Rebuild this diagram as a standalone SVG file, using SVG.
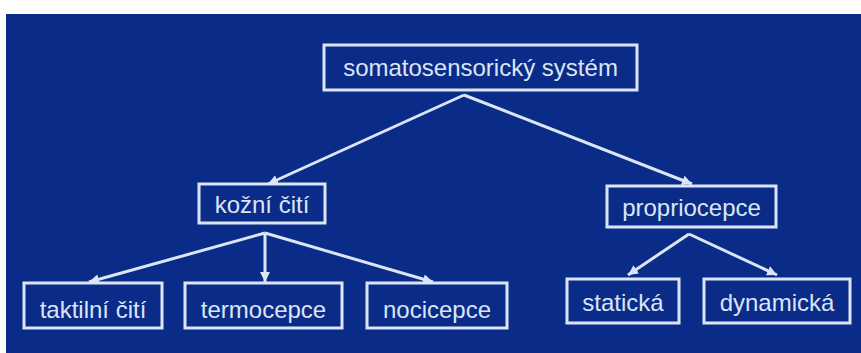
<svg xmlns="http://www.w3.org/2000/svg" width="861" height="353" viewBox="0 0 861 353">
<style>
.box{fill:#0a2c88;stroke:#dbe5f6;stroke-width:3}
.lbl{font-family:"Liberation Sans",Arial,sans-serif;font-size:24px;fill:#dbe5f6;text-anchor:middle}
.edge{stroke:#dbe5f6;stroke-width:3;fill:none;marker-end:url(#ah)}
</style>
<defs>
<marker id="ah" markerUnits="userSpaceOnUse" markerWidth="12" markerHeight="10" refX="10" refY="5" orient="auto">
<path d="M0,0 L10,5 L0,10 Z" fill="#dbe5f6"/>
</marker>
</defs>
<rect x="0" y="0" width="861" height="353" fill="#ffffff"/>
<rect x="6" y="14" width="855" height="339" fill="#0a2c88"/>
<g id="connectors">
<path class="edge" d="M464,95 L268,184"/>
<path class="edge" d="M464,95 L692,184"/>
<path class="edge" d="M265,233 L89,282"/>
<path class="edge" d="M265,233 L265,282"/>
<path class="edge" d="M265,233 L433,282"/>
<path class="edge" d="M689,234 L628,275"/>
<path class="edge" d="M689,234 L777,275"/>
</g>
<g id="n_soma"><rect class="box" x="324" y="45" width="313" height="45"/><text class="lbl" x="480.5" y="76">somatosensorický systém</text></g>
<g id="n_kozni"><rect class="box" x="199" y="184" width="126" height="39"/><text class="lbl" x="262" y="213">kožní čití</text></g>
<g id="n_proprio"><rect class="box" x="607" y="186" width="169" height="41"/><text class="lbl" x="691.5" y="216">propriocepce</text></g>
<g id="n_takt"><rect class="box" x="24" y="283" width="138" height="45"/><text class="lbl" x="93" y="318">taktilní čití</text></g>
<g id="n_termo"><rect class="box" x="185" y="283" width="157" height="45"/><text class="lbl" x="263.5" y="318">termocepce</text></g>
<g id="n_noci"><rect class="box" x="367" y="283" width="140" height="45"/><text class="lbl" x="437" y="318">nocicepce</text></g>
<g id="n_stat"><rect class="box" x="567" y="279" width="112" height="44"/><text class="lbl" x="623" y="311">statická</text></g>
<g id="n_dyn"><rect class="box" x="704" y="279" width="146" height="44"/><text class="lbl" x="777" y="311">dynamická</text></g>
</svg>
